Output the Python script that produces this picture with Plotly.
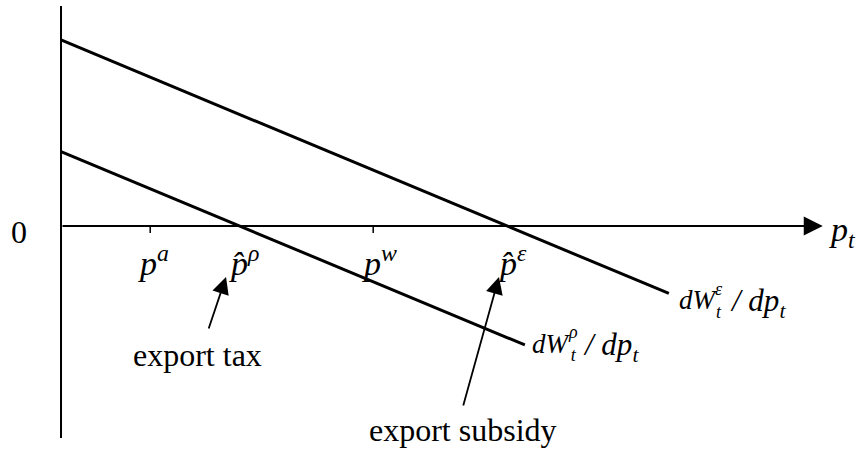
import plotly.graph_objects as go

# Price levels marked on the horizontal axis
p_autarky = 2.0      # p^a
p_hat_rho = 4.0      # p-hat^rho
p_world = 7.0        # p^w
p_hat_eps = 10.0     # p-hat^epsilon

# Marginal welfare schedules dW/dp (start and end of each straight line)
eps_p = [0.0, 13.63]
eps_v = [10.0, -3.63]
rho_p = [0.0, 10.4]
rho_v = [4.0, -6.4]

# Extent of the drawn axes
x_axis_end = 17.08
y_axis_top = 11.83
y_axis_bottom = -11.4

W, H = 862, 451
serif = "Liberation Serif, Times New Roman, serif"


def txt(size):
    return dict(family=serif, size=size, color="black")


def schedule_label(x, y, greek, dx, dy):
    """dW_t^greek / dp_t placed to the right of a schedule's end point,
    with the superscript stacked above the subscript."""
    common = dict(x=x, y=y, xref="x", yref="y", xanchor="left", yanchor="middle",
                  showarrow=False)
    return [
        dict(common, xshift=dx, yshift=dy, text="<i>dW</i>", font=txt(27)),
        dict(common, xshift=dx + 36, yshift=dy, text=f"<i>{greek}</i><br><i>t</i>",
             font=txt(18)),
        dict(common, xshift=dx + 51, yshift=dy - 3,
             text="<i>/ dp<sub>t</sub></i>", font=txt(31)),
    ]


fig = go.Figure()
fig.add_trace(go.Scatter(x=eps_p, y=eps_v, mode="lines",
                         line=dict(color="black", width=3), hoverinfo="skip"))
fig.add_trace(go.Scatter(x=rho_p, y=rho_v, mode="lines",
                         line=dict(color="black", width=3), hoverinfo="skip"))

shapes = [
    dict(type="line", xref="x", yref="y", x0=0, x1=0, y0=y_axis_bottom, y1=y_axis_top,
         line=dict(color="black", width=2)),
]
for p in (p_autarky, p_world):
    shapes.append(dict(type="line", xref="x", yref="y", x0=p, x1=p, y0=0, y1=-0.38,
                       line=dict(color="black", width=1.5)))

annotations = [
    # horizontal axis with arrow head
    dict(x=x_axis_end, y=0, ax=0, ay=0, xref="x", yref="y", axref="x", ayref="y",
         showarrow=True, arrowhead=2, arrowwidth=2, arrowsize=1.9, arrowcolor="black",
         text=""),
    dict(x=x_axis_end, y=0, xref="x", yref="y", xanchor="left", yanchor="middle",
         xshift=4, yshift=-6, showarrow=False,
         text="<i>p<sub>t</sub></i>", font=txt(34)),
    dict(x=0, y=0, xref="x", yref="y", xanchor="right", yanchor="middle",
         xshift=-32, yshift=-6, showarrow=False, text="0", font=txt(32)),
    # price labels
    dict(x=p_autarky, y=0, xref="x", yref="y", xanchor="center", yanchor="top",
         xshift=3, yshift=-12, showarrow=False,
         text="<i>p</i><sup><i>a</i></sup>", font=txt(34)),
    dict(x=p_hat_rho, y=0, xref="x", yref="y", xanchor="center", yanchor="top",
         xshift=5, yshift=-12, showarrow=False,
         text="<i>p\u0302</i><sup><i>\u03c1</i></sup>", font=txt(34)),
    dict(x=p_world, y=0, xref="x", yref="y", xanchor="center", yanchor="top",
         xshift=6, yshift=-12, showarrow=False,
         text="<i>p</i><sup><i>w</i></sup>", font=txt(34)),
    dict(x=p_hat_eps, y=0, xref="x", yref="y", xanchor="center", yanchor="top",
         xshift=5, yshift=-12, showarrow=False,
         text="<i>p\u0302</i><sup><i>\u03b5</i></sup>", font=txt(34)),
    # policy arrows
    dict(x=p_hat_rho - 0.3, y=-2.74, ax=p_hat_rho - 0.7, ay=-5.59,
         xref="x", yref="y", axref="x", ayref="y",
         showarrow=True, arrowhead=2, arrowwidth=1.8, arrowsize=1.9, arrowcolor="black", text=""),
    dict(x=p_hat_rho - 0.95, y=-6.94, xref="x", yref="y", xanchor="center", yanchor="middle",
         showarrow=False, text="export tax", font=txt(32)),
    dict(x=p_hat_eps - 0.18, y=-2.74, ax=p_hat_eps - 0.99, ay=-9.73,
         xref="x", yref="y", axref="x", ayref="y",
         showarrow=True, arrowhead=2, arrowwidth=1.8, arrowsize=1.9, arrowcolor="black", text=""),
    dict(x=p_hat_eps - 0.99, y=-10.97, xref="x", yref="y", xanchor="center", yanchor="middle",
         showarrow=False, text="export subsidy", font=txt(32)),
]
annotations += schedule_label(eps_p[1], eps_v[1], "\u03b5", 8, -7)
annotations += schedule_label(rho_p[1], rho_v[1], "\u03c1", 5, 1)

fig.update_layout(
    width=W, height=H,
    margin=dict(l=0, r=0, t=0, b=0),
    paper_bgcolor="white", plot_bgcolor="white",
    showlegend=False,
    xaxis=dict(visible=False, range=[-1.368, 17.96], fixedrange=True),
    yaxis=dict(visible=False, range=[-12.10, 12.15], fixedrange=True),
    shapes=shapes, annotations=annotations,
)

fig.write_html("out.html", config=dict(displayModeBar=False))
